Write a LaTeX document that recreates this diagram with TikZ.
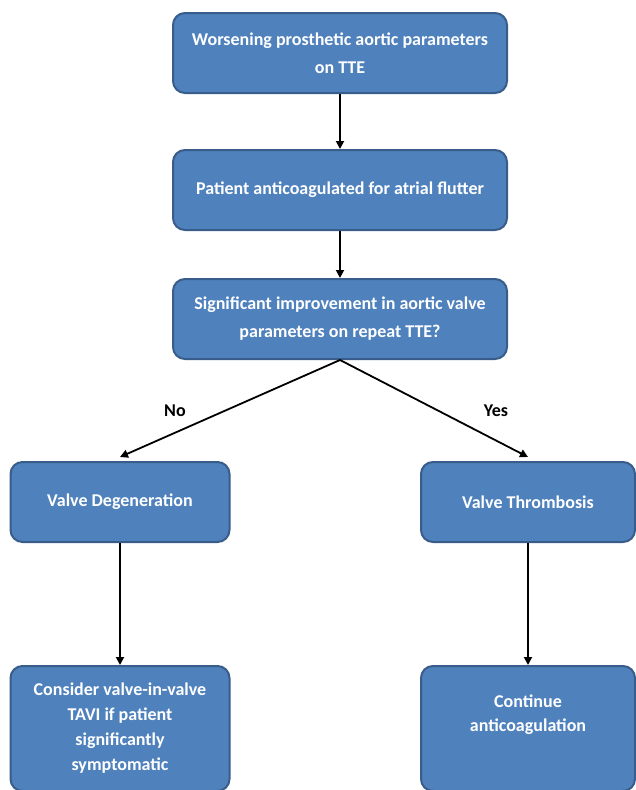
\documentclass[tikz,border=0pt]{standalone}
\usepackage{fontspec}
\setmainfont{Carlito}
\usepackage{xcolor}
\usepackage{tikz}
\usetikzlibrary{arrows.meta,positioning}

\definecolor{boxfill}{HTML}{4F81BD}
\definecolor{boxline}{HTML}{385D8A}

\begin{document}
\begin{tikzpicture}[
  x=1pt,y=-1pt,
  font=\fontsize{18}{28}\selectfont\bfseries,
  box/.style={rectangle,rounded corners=12pt,draw=boxline,line width=2pt,
              fill=boxfill,text=white,align=center,inner sep=4pt,
              minimum width=334pt,minimum height=80pt},
  sidebox/.style={box,minimum width=219pt},
  flow/.style={-{Triangle[length=8pt,width=8pt]},line width=1.8pt},
  answer/.style={font=\fontsize{18}{20}\selectfont\bfseries,text=black}
]
\useasboundingbox (0,0) rectangle (636,790);

% ===================== main chain =====================
\node[box] (worse) at (340,53) {Worsening prosthetic aortic parameters\\on TTE};
\node[box,below=55pt of worse] (anticoag) {Patient anticoagulated for atrial flutter};
\node[box,below=47pt of anticoag] (improve) {Significant improvement in aortic valve\\parameters on repeat TTE?};

% ===================== outcomes =====================
\node[sidebox] (degen) at (120,502) {Valve Degeneration};
\node[sidebox,minimum width=214pt] (thromb) at (528,502) {Valve Thrombosis};
\node[sidebox,minimum height=125pt,below=122pt of degen,
      font=\fontsize{18}{25}\selectfont\bfseries] (tavi)
  {Consider valve-in-valve\\TAVI if patient\\significantly\\symptomatic};
\node[sidebox,minimum width=214pt,minimum height=125pt,below=122pt of thromb,
      font=\fontsize{18}{24}\selectfont\bfseries] (cont)
  {Continue\\anticoagulation\\[6pt]};

% ===================== edges =====================
\draw[flow] (worse) -- (anticoag);
\draw[flow] (anticoag) -- (improve);
\draw[flow] (improve.south) -- node[answer,pos=0.75,above=12pt] {No} ([yshift=4pt]degen.north);
\draw[flow] (improve.south) -- node[answer,pos=0.83,above=20pt] {Yes} ([yshift=4pt]thromb.north);
\draw[flow] (degen) -- (tavi);
\draw[flow] (thromb) -- (cont);

\end{tikzpicture}
\end{document}
